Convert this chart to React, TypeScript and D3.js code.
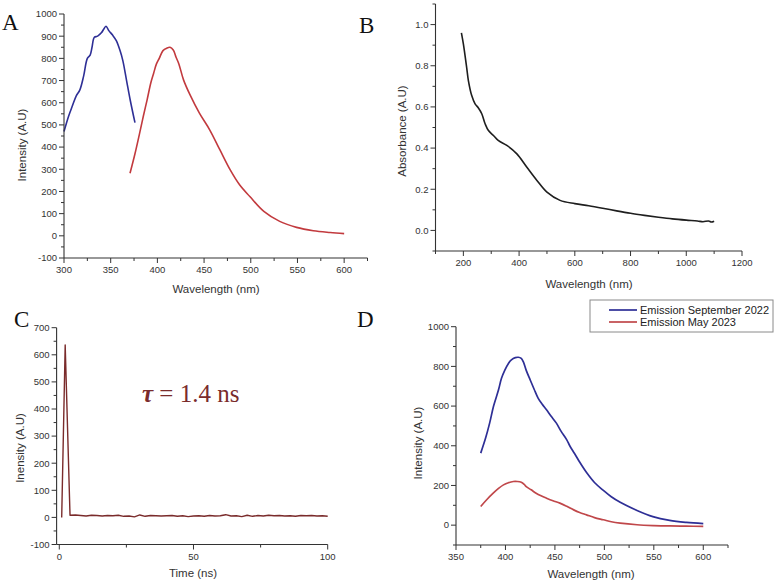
import React from "react";
import * as d3 from "d3";

// ---------- DATA ----------
// Panel A: excitation (blue) and emission (red) spectra
const aExcWl = [300, 305, 309, 313, 317, 321, 325, 328, 330, 332.5, 336, 340, 343, 345, 348, 352, 356, 360, 363, 367, 371, 376];
const aExcI = [470, 540, 586, 630, 658, 720, 800, 815, 850, 895, 900, 915, 935, 945, 925, 905, 880, 835, 790, 700, 610, 510];
const aEmWl = [370.7, 376, 381, 385, 389, 393, 396, 399, 402, 406, 410, 413.5, 417, 420, 423, 428, 435, 445, 456, 467, 478, 488, 499, 514, 531, 549, 567, 585, 600];
const aEmI = [282, 370, 463, 540, 613, 690, 733, 775, 800, 835, 846, 850, 838, 805, 775, 703, 635, 553, 478, 387, 297, 230, 177, 110, 65, 38, 23, 15, 10];

// Panel B: absorbance
const bWl = [193, 200, 212, 218, 230, 242, 254, 266, 278, 290, 308, 325, 356, 392, 428, 464, 500, 547, 600, 650, 700, 750, 800, 850, 900, 950, 1000, 1040, 1060, 1080, 1090, 1100];
const bAbs = [0.96, 0.906, 0.79, 0.728, 0.655, 0.615, 0.595, 0.567, 0.518, 0.485, 0.461, 0.437, 0.413, 0.372, 0.307, 0.243, 0.186, 0.146, 0.13, 0.12, 0.108, 0.095, 0.083, 0.073, 0.064, 0.056, 0.05, 0.046, 0.042, 0.046, 0.041, 0.045];

// Panel C: decay
const cTime = [0.9, 2.2, 4, 6, 8, 10, 12, 14, 16, 18, 20, 22, 24, 26, 28, 30, 32, 34, 36, 38, 40, 42, 44, 46, 48, 50, 52, 54, 56, 58, 60, 62, 64, 66, 68, 70, 72, 74, 76, 78, 80, 82, 84, 86, 88, 90, 92, 94, 96, 98, 100];
const cInt = [0, 636, 8, 9, 7, 5, 8, 7, 5, 7, 6, 8, 4, 5, 2, 9, 4, 7, 6, 5, 6, 7, 4, 6, 3, 5, 6, 4, 7, 5, 6, 10, 5, 6, 3, 8, 4, 7, 5, 8, 6, 7, 5, 6, 4, 7, 6, 7, 5, 6, 4];

// Panel D: emission comparison
const dSepWl = [375, 380, 384, 388, 393, 396, 399.5, 403, 406, 410, 413, 416, 418, 421, 425, 429, 433, 437, 441.5, 446, 451.5, 456, 462, 465, 470, 475, 482, 490, 499, 507, 516, 533, 549, 566, 583, 600];
const dSepI = [363, 440, 514, 600, 682, 740, 782, 815, 833, 844, 846, 840, 824, 780, 732, 685, 640, 610, 581, 550, 514, 475, 430, 400, 360, 318, 265, 215, 175, 143, 115, 74, 43, 24, 14, 8];
const dMayWl = [375, 381, 387.6, 393, 398, 403, 408, 412, 416, 419, 421, 426, 431, 436, 441.5, 448, 455, 462, 469, 475, 482, 490, 499, 507, 516, 533, 550, 566, 583, 600];
const dMayI = [94, 128, 161, 185, 203, 214, 220, 220, 216, 205, 194, 178, 161, 148, 136, 123, 111, 95, 77, 64, 52, 38, 27, 17, 10, 2, -2, -4, -5, -6];

const legendLabels = ["Emission September 2022", "Emission May 2023"];

// tick values
const aXMajor = [300, 350, 400, 450, 500, 550, 600];
const aXMinor = [325, 375, 425, 475, 525, 575, 625];
const aYMajor = [-100, 0, 100, 200, 300, 400, 500, 600, 700, 800, 900, 1000];
const aYMinor = [-50, 50, 150, 250, 350, 450, 550, 650, 750, 850, 950];
const bXMajor = [200, 400, 600, 800, 1000, 1200];
const bXMinor = [100, 300, 500, 700, 900, 1100];
const bYMajor = [0, 0.2, 0.4, 0.6, 0.8, 1.0];
const bYMinor = [-0.1, 0.1, 0.3, 0.5, 0.7, 0.9, 1.1];
const cXMajor = [0, 50, 100];
const cXMinor = [25, 75];
const cYMajor = [-100, 0, 100, 200, 300, 400, 500, 600, 700];
const cYMinor = [-50, 50, 150, 250, 350, 450, 550, 650];
const dXMajor = [350, 400, 450, 500, 550, 600];
const dXMinor = [375, 425, 475, 525, 575, 625];
const dYMajor = [0, 200, 400, 600, 800, 1000];
const dYMinor = [-100, 100, 300, 500, 700, 900];

const SANS = "'Liberation Sans', Arial, Helvetica, sans-serif";
const SERIF = "'Liberation Serif', 'Times New Roman', serif";
const AX = "#333";

type Series = { xs: number[]; ys: number[]; color: string; width: number; linear?: boolean };

function Panel(props: {
  x: d3.ScaleLinear<number, number>;
  y: d3.ScaleLinear<number, number>;
  xMajor: number[];
  xMinor: number[];
  yMajor: number[];
  yMinor: number[];
  yFmt?: (v: number) => string;
  series: Series[];
  xLabel: string;
  yLabel: string;
  xLabelPos: [number, number];
  yLabelPos: [number, number];
}) {
  const { x, y, xMajor, xMinor, yMajor, yMinor, series } = props;
  const fmt = props.yFmt || ((v: number) => String(v));
  const [x0, x1] = x.range();
  const [y0, y1] = y.range();
  const mkLine = (linear?: boolean) =>
    d3
      .line<[number, number]>()
      .x((d) => x(d[0]))
      .y((d) => y(d[1]))
      .curve(linear ? d3.curveLinear : d3.curveCatmullRom.alpha(0.5));
  return (
    <g>
      {series.map((s, i) => (
        <path
          key={i}
          d={mkLine(s.linear)(s.xs.map((v, j) => [v, s.ys[j]] as [number, number])) || ""}
          fill="none"
          stroke={s.color}
          strokeWidth={s.width}
          strokeLinejoin="round"
        />
      ))}
      {/* axes */}
      <line x1={x0} x2={x0} y1={y0} y2={y1} stroke={AX} strokeWidth={1.1} />
      <line x1={x0} x2={x1} y1={y0} y2={y0} stroke={AX} strokeWidth={1.1} />
      {yMajor.map((v) => (
        <g key={"ym" + v}>
          <line x1={x0 - 5} x2={x0} y1={y(v)} y2={y(v)} stroke={AX} />
          <text x={x0 - 7} y={y(v)} dy="0.35em" textAnchor="end" fontSize={9.5} fontFamily={SANS} fill={AX}>
            {fmt(v)}
          </text>
        </g>
      ))}
      {yMinor.map((v) => (
        <line key={"yn" + v} x1={x0 - 3} x2={x0} y1={y(v)} y2={y(v)} stroke={AX} />
      ))}
      {xMajor.map((v) => (
        <g key={"xm" + v}>
          <line x1={x(v)} x2={x(v)} y1={y0} y2={y0 + 5} stroke={AX} />
          <text x={x(v)} y={y0 + 15} textAnchor="middle" fontSize={9.5} fontFamily={SANS} fill={AX}>
            {v}
          </text>
        </g>
      ))}
      {xMinor.map((v) => (
        <line key={"xn" + v} x1={x(v)} x2={x(v)} y1={y0} y2={y0 + 3} stroke={AX} />
      ))}
      <text x={props.xLabelPos[0]} y={props.xLabelPos[1]} textAnchor="middle" fontSize={11.5} fontFamily={SANS} fill={AX}>
        {props.xLabel}
      </text>
      <text
        transform={`translate(${props.yLabelPos[0]},${props.yLabelPos[1]}) rotate(-90)`}
        textAnchor="middle"
        dy="0.35em"
        fontSize={11.5}
        fontFamily={SANS}
        fill={AX}
      >
        {props.yLabel}
      </text>
    </g>
  );
}

export default function App() {
  const ax = d3.scaleLinear().domain([300, 625]).range([64, 367.5]);
  const ay = d3.scaleLinear().domain([-100, 1000]).range([258, 14]);
  const bx = d3.scaleLinear().domain([100, 1200]).range([435.5, 742]);
  const by = d3.scaleLinear().domain([-0.1, 1.1]).range([251, 4]);
  const cx = d3.scaleLinear().domain([-1, 100]).range([56.6, 327.7]);
  const cy = d3.scaleLinear().domain([-100, 700]).range([544.5, 327.7]);
  const dx = d3.scaleLinear().domain([350, 625]).range([456, 728]);
  const dy = d3.scaleLinear().domain([-100, 1000]).range([545, 326.7]);

  const BLUE = "#2e2f96";
  const RED_A = "#c23a3e";
  const RED_D = "#c0474a";
  const MAROON = "#7a2b2b";

  return (
    <svg
      width={776}
      height={581}
      style={{ position: "absolute", left: 0, top: 0, background: "#fff" }}
    >
      <rect x={0} y={0} width={776} height={581} fill="#fff" />
      {/* Panel letters */}
      <text x={2} y={30} fontSize={23} fontFamily={SERIF} fill="#111">A</text>
      <text x={359} y={33} fontSize={23} fontFamily={SERIF} fill="#111">B</text>
      <text x={14} y={327} fontSize={23} fontFamily={SERIF} fill="#111">C</text>
      <text x={357} y={327} fontSize={23} fontFamily={SERIF} fill="#111">D</text>

      <Panel
        x={ax}
        y={ay}
        xMajor={aXMajor}
        xMinor={aXMinor}
        yMajor={aYMajor}
        yMinor={aYMinor}
        series={[
          { xs: aExcWl, ys: aExcI, color: BLUE, width: 1.6 },
          { xs: aEmWl, ys: aEmI, color: RED_A, width: 1.6 },
        ]}
        xLabel="Wavelength (nm)"
        yLabel="Intensity (A.U)"
        xLabelPos={[216, 293]}
        yLabelPos={[22, 145]}
      />
      <Panel
        x={bx}
        y={by}
        xMajor={bXMajor}
        xMinor={bXMinor}
        yMajor={bYMajor}
        yMinor={bYMinor}
        yFmt={(v) => v.toFixed(1)}
        series={[{ xs: bWl, ys: bAbs, color: "#1e1e1e", width: 1.6 }]}
        xLabel="Wavelength (nm)"
        yLabel="Absorbance (A.U)"
        xLabelPos={[589, 288]}
        yLabelPos={[402, 131]}
      />
      <Panel
        x={cx}
        y={cy}
        xMajor={cXMajor}
        xMinor={cXMinor}
        yMajor={cYMajor}
        yMinor={cYMinor}
        series={[{ xs: cTime, ys: cInt, color: MAROON, width: 1.4, linear: true }]}
        xLabel="Time (ns)"
        yLabel="Inensity (A.U)"
        xLabelPos={[193, 577]}
        yLabelPos={[20, 448]}
      />
      <Panel
        x={dx}
        y={dy}
        xMajor={dXMajor}
        xMinor={dXMinor}
        yMajor={dYMajor}
        yMinor={dYMinor}
        series={[
          { xs: dSepWl, ys: dSepI, color: BLUE, width: 1.7 },
          { xs: dMayWl, ys: dMayI, color: RED_D, width: 1.7 },
        ]}
        xLabel="Wavelength (nm)"
        yLabel="Intensity (A.U)"
        xLabelPos={[591, 578]}
        yLabelPos={[418, 443]}
      />

      {/* tau annotation */}
      <text x={142} y={402} fontSize={25} fontFamily={SERIF} fill={MAROON}>
        <tspan fontWeight="bold" fontStyle="italic">τ</tspan>
        <tspan> = 1.4 ns</tspan>
      </text>

      {/* Legend in D */}
      <g>
        <rect x={590} y={300} width={183} height={32} fill="#fff" stroke="#8a8a8a" strokeWidth={1} />
        {legendLabels.map((lab, i) => (
          <g key={lab}>
            <line x1={609} x2={637} y1={310 + i * 12} y2={310 + i * 12} stroke={i === 0 ? BLUE : RED_D} strokeWidth={1.7} />
            <text x={640} y={310 + i * 12} dy="0.35em" fontSize={11} fontFamily={SANS} fill="#222">
              {lab}
            </text>
          </g>
        ))}
      </g>
    </svg>
  );
}
